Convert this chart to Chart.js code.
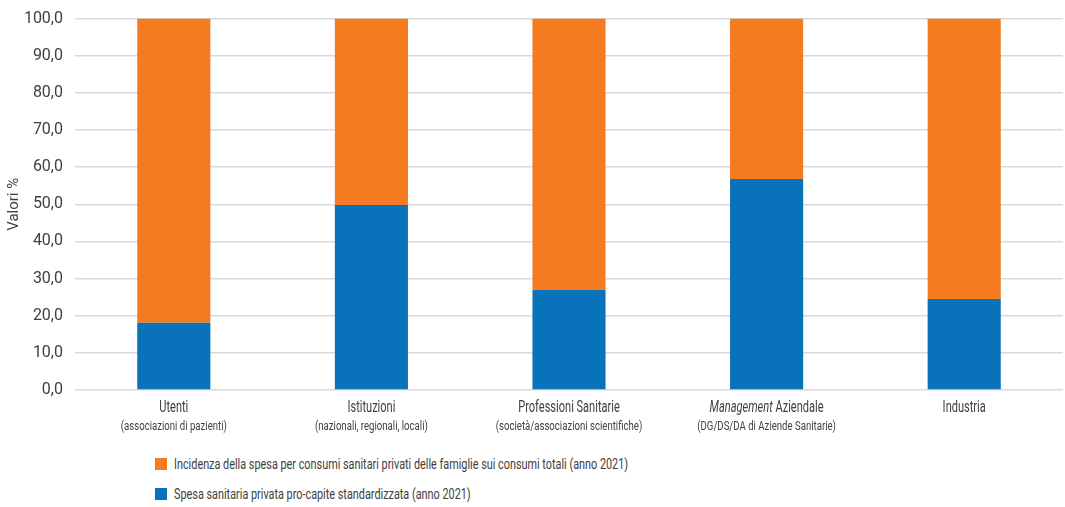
<!DOCTYPE html>
<html>
<head>
<meta charset="utf-8">
<script src="https://cdn.jsdelivr.net/npm/chart.js@4"></script>
<style>
  body { margin: 0; background: #fff; font-family: "Roboto", sans-serif; color: #404040; overflow: hidden; }
  #wrap { position: relative; width: 1065px; height: 507px; overflow: hidden; }
  #chartBox { position: absolute; left: 0; top: -3px; width: 1065px; height: 443px; }
  #legend { position: absolute; left: 155px; top: 452px; font-size: 15.5px; }
  .item { height: 30px; line-height: 24px; white-space: nowrap; }
  .box { display: inline-block; width: 12px; height: 12px; margin-right: 7px; vertical-align: -1px; }
  .txt { display: inline-block; transform: scaleX(0.70); transform-origin: left center; }
</style>
</head>
<body>
<div id="wrap">
  <div id="chartBox"><canvas id="chart"></canvas></div>
  <div id="legend"></div>
</div>
<script>
// Data ---------------------------------
const categories = ['Utenti', 'Istituzioni', 'Professioni Sanitarie', 'Management Aziendale', 'Industria'];
const subLabels = ['(associazioni di pazienti)', '(nazionali, regionali, locali)', '(società/associazioni scientifiche)', '(DG/DS/DA di Aziende Sanitarie)', ''];
const spesaProCapite = [18.1, 49.8, 27.0, 56.8, 24.5];
const incidenzaSpesa = [81.9, 50.2, 73.0, 43.2, 75.5];
const yTicks = [0, 10, 20, 30, 40, 50, 60, 70, 80, 90, 100];

const orange = '#F47B20';
const blue = '#0872BA';
const fontFamily = '"Roboto", sans-serif';

// draw text squeezed horizontally (the original uses a condensed face)
function condensedText(ctx, text, x, y, sx) {
    ctx.save();
    ctx.translate(x, y);
    ctx.scale(sx, 1);
    ctx.fillText(text, 0, 0);
    ctx.restore();
}

// x labels drawn by hand so the second line can be smaller and "Management" italic
const xLabelsPlugin = {
    id: 'xLabels',
    afterDraw(chart) {
        const ctx = chart.ctx;
        const xScale = chart.scales.x;
        const bottom = chart.chartArea.bottom;
        const sx1 = 0.69, sx2 = 0.8;
        ctx.save();
        ctx.fillStyle = '#404040';
        ctx.textBaseline = 'alphabetic';
        categories.forEach(function(cat, i) {
            const x = xScale.getPixelForValue(i);
            if (cat.startsWith('Management')) {
                ctx.font = 'italic 16px ' + fontFamily;
                const w1 = ctx.measureText('Management').width * sx1;
                ctx.font = '16px ' + fontFamily;
                const w2 = ctx.measureText(' Aziendale').width * sx1;
                const start = x - (w1 + w2) / 2;
                ctx.textAlign = 'left';
                ctx.font = 'italic 16px ' + fontFamily;
                condensedText(ctx, 'Management', start, bottom + 22, sx1);
                ctx.font = '16px ' + fontFamily;
                condensedText(ctx, ' Aziendale', start + w1, bottom + 22, sx1);
            } else {
                ctx.textAlign = 'center';
                ctx.font = '16px ' + fontFamily;
                condensedText(ctx, cat, x, bottom + 22, sx1);
            }
            ctx.textAlign = 'center';
            ctx.font = '12px ' + fontFamily;
            condensedText(ctx, subLabels[i], x, bottom + 40, sx2);
        });
        ctx.restore();
    }
};

const ctx = document.getElementById('chart').getContext('2d');
const chart = new Chart(ctx, {
    type: 'bar',
    data: {
        labels: categories,
        datasets: [{
            label: 'Spesa sanitaria privata pro-capite standardizzata (anno 2021)',
            data: spesaProCapite,
            backgroundColor: blue
        }, {
            label: 'Incidenza della spesa per consumi sanitari privati delle famiglie sui consumi totali (anno 2021)',
            data: incidenzaSpesa,
            backgroundColor: orange
        }]
    },
    options: {
        responsive: true,
        maintainAspectRatio: false,
        animation: false,
        layout: { padding: { top: 5, right: 2, left: 0, bottom: 0 } },
        datasets: { bar: { barPercentage: 0.74, categoryPercentage: 0.5 } },
        plugins: {
            legend: { display: false },
            tooltip: { enabled: false }
        },
        scales: {
            x: {
                stacked: true,
                grid: { display: false },
                border: { display: false },
                ticks: { display: false },
                afterFit: function(scale) { scale.height = 50; }
            },
            y: {
                stacked: true,
                min: 0,
                max: 100,
                afterBuildTicks: function(scale) {
                    scale.ticks = yTicks.map(v => ({ value: v }));
                },
                afterFit: function(scale) { scale.width = 75; },
                grid: { color: '#d9d9d9', lineWidth: 1.5, drawTicks: false },
                border: { display: false },
                ticks: {
                    padding: 12,
                    color: '#404040',
                    font: { family: fontFamily, size: 16 },
                    callback: v => v.toFixed(1).replace('.', ',')
                },
                title: {
                    display: true,
                    text: 'Valori %',
                    color: '#404040',
                    font: { family: fontFamily, size: 15 },
                    padding: { top: 5, bottom: 0 }
                }
            }
        }
    },
    plugins: [xLabelsPlugin]
});

// Legend, one item per row, orange first
const legend = document.getElementById('legend');
[chart.data.datasets[1], chart.data.datasets[0]].forEach(function(ds) {
    const div = document.createElement('div');
    div.className = 'item';
    const box = document.createElement('span');
    box.className = 'box';
    box.style.background = ds.backgroundColor;
    div.appendChild(box);
    const txt = document.createElement('span');
    txt.className = 'txt';
    txt.textContent = ds.label;
    div.appendChild(txt);
    legend.appendChild(div);
});
</script>
</body>
</html>
